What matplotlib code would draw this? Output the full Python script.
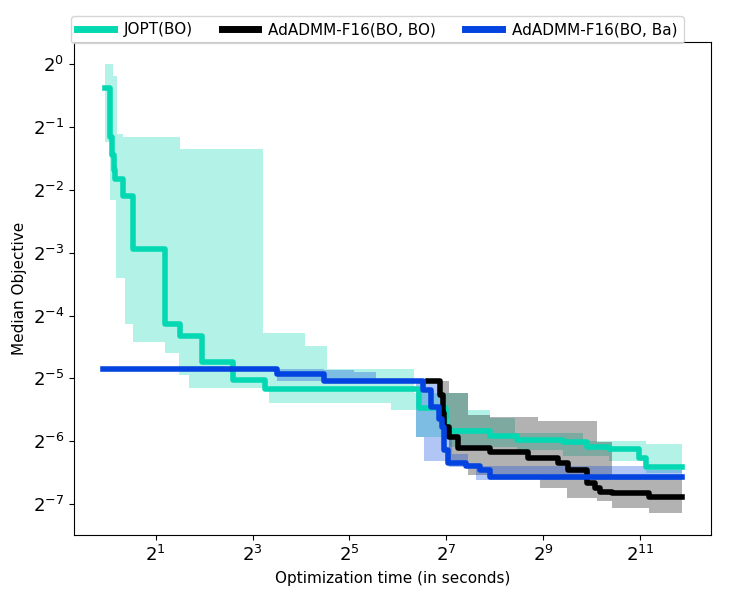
import matplotlib
matplotlib.use("Agg")
import matplotlib.pyplot as plt
from matplotlib.ticker import NullLocator

# JOPT(BO): median and spread (step curves, value holds until next time)
jopt_t = [0.97, 1.04, 1.07, 1.10, 1.12, 1.25, 1.44, 2.27, 2.85, 3.90, 6.06, 9.55,
          86.6, 127, 241, 354, 680, 956, 1325, 2030, 2245, 3740]
jopt_med = [0.767, 0.450, 0.369, 0.313, 0.283, 0.235, 0.130, 0.0570, 0.0498, 0.0373,
            0.0306, 0.0277, 0.0224, 0.0175, 0.0166, 0.0159, 0.0154, 0.0147, 0.0143,
            0.0129, 0.0117, 0.0117]
jopt_up_t = [0.97, 1.085, 1.149, 1.25, 2.85, 9.29, 16.9, 23.4, 80.6, 176, 241, 344,
             904, 2245, 3740]
jopt_up = [1.0, 0.876, 0.466, 0.450, 0.395, 0.0514, 0.0445, 0.0346, 0.0265, 0.0220,
           0.0201, 0.0170, 0.0157, 0.0151, 0.0151]
jopt_lo_t = [0.97, 1.04, 1.13, 1.29, 1.44, 2.27, 2.81, 3.24, 10.1, 58.2, 82.9, 133,
             354, 680, 1325, 2245, 3740]
jopt_lo = [0.426, 0.224, 0.0945, 0.0570, 0.0466, 0.0412, 0.0323, 0.0280, 0.0237,
           0.0220, 0.0163, 0.0146, 0.0141, 0.0133, 0.0126, 0.0110, 0.0110]

# AdADMM-F16(BO, BO)
bobo_t = [98.4, 118, 122, 125, 133, 151, 241, 414, 634, 731, 957, 1073, 1152, 1385,
          2345, 3740]
bobo_med = [0.0302, 0.0259, 0.0214, 0.0182, 0.0163, 0.0144, 0.0138, 0.0130, 0.0123,
            0.0113, 0.00979, 0.00926, 0.00886, 0.00876, 0.00847, 0.00847]
bobo_up_t = [98.4, 133, 176, 241, 477, 1104, 1385, 3740]
bobo_up = [0.0302, 0.0265, 0.0208, 0.0203, 0.0196, 0.0154, 0.0105, 0.0105]
bobo_lo_t = [98.4, 118, 133, 174, 491, 720, 1104, 1385, 2345, 3740]
bobo_lo = [0.0302, 0.0200, 0.0126, 0.0107, 0.00926, 0.00837, 0.00809, 0.00749,
           0.00708, 0.00708]

# AdADMM-F16(BO, Ba)
boba_t = [0.94, 11.3, 22.4, 91.6, 103, 115, 120, 124, 131, 169, 209, 241, 3740]
boba_med = [0.0346, 0.0327, 0.0302, 0.0274, 0.0227, 0.0200, 0.0182, 0.0141, 0.0123,
            0.0119, 0.0113, 0.0105, 0.0105]
boba_up_t = [0.94, 22.4, 34.4, 47.0, 118, 125, 140, 174, 2245, 3740]
boba_up = [0.0346, 0.0342, 0.0334, 0.0302, 0.0214, 0.0163, 0.0135, 0.0119, 0.0113,
           0.0113]
boba_lo_t = [0.94, 11.3, 82.9, 92.9, 133, 196, 3740]
boba_lo = [0.0346, 0.0302, 0.0163, 0.0126, 0.0117, 0.0102, 0.0102]

labels = ["JOPT(BO)", "AdADMM-F16(BO, BO)", "AdADMM-F16(BO, Ba)"]
colors = ["#04d8b2", "black", "#0343df"]

xticks = [2, 8, 32, 128, 512, 2048]
yticks = [1, 0.5, 0.25, 0.125, 0.0625, 0.03125, 0.015625, 0.0078125]


def band(ax, t_up, up, t_lo, lo, color):
    # merge both step curves onto one time grid
    ts = sorted(set(t_up) | set(t_lo))

    def at(ts_src, vals, t):
        v = vals[0]
        for a, b in zip(ts_src, vals):
            if a <= t:
                v = b
        return v

    ups = [at(t_up, up, t) for t in ts]
    los = [at(t_lo, lo, t) for t in ts]
    ax.fill_between(ts, los, ups, step="post", color=color, alpha=0.3, lw=0)


fig = plt.figure(figsize=(7.5, 6), dpi=100)
ax = fig.add_axes([0.0987, 0.108, 0.849, 0.822])

series = [
    (jopt_t, jopt_med, jopt_up_t, jopt_up, jopt_lo_t, jopt_lo),
    (bobo_t, bobo_med, bobo_up_t, bobo_up, bobo_lo_t, bobo_lo),
    (boba_t, boba_med, boba_up_t, boba_up, boba_lo_t, boba_lo),
]
for (t, med, tu, u, tl, l), lab, c in zip(series, labels, colors):
    band(ax, tu, u, tl, l, c)
    ax.step(t, med, where="post", color=c, lw=4, label=lab)

ax.set_xscale("log", base=2)
ax.set_yscale("log", base=2)
ax.set_xticks(xticks)
ax.set_yticks(yticks)
ax.xaxis.set_minor_locator(NullLocator())
ax.yaxis.set_minor_locator(NullLocator())
ax.tick_params(labelsize=13)

ax.set_xlabel("Optimization time (in seconds)", fontsize=11)
ax.set_ylabel("Median Objective", fontsize=11)

leg = fig.legend(loc="upper center", bbox_to_anchor=(0.503, 0.978), ncol=3, fontsize=11,
                 handlelength=2.4, handletextpad=0.65, columnspacing=1.9,
                 borderaxespad=0.2)
for h in leg.get_lines():
    h.set_linewidth(5)

fig.savefig("out.png", dpi=100)
